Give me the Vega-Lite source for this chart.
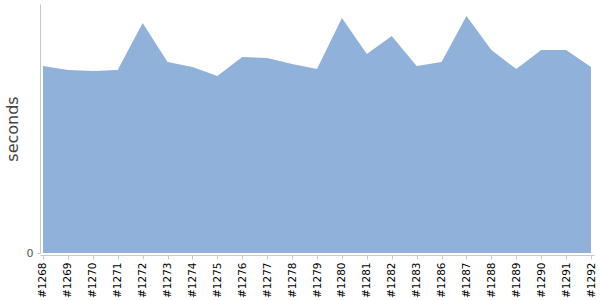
{
  "$schema": "https://vega.github.io/schema/vega-lite/v6.json",
  "width": 554,
  "height": 249,
  "autosize": "none",
  "padding": {"left": 40, "top": 4, "right": 6, "bottom": 47},
  "background": "white",
  "config": {"view": {"stroke": null}, "font": "DejaVu Sans"},
  "data": {"values": [
    {"build": "#1268", "seconds": 187},
    {"build": "#1269", "seconds": 183},
    {"build": "#1270", "seconds": 182},
    {"build": "#1271", "seconds": 183},
    {"build": "#1272", "seconds": 230},
    {"build": "#1273", "seconds": 191},
    {"build": "#1274", "seconds": 186},
    {"build": "#1275", "seconds": 177},
    {"build": "#1276", "seconds": 196},
    {"build": "#1277", "seconds": 195},
    {"build": "#1278", "seconds": 189},
    {"build": "#1279", "seconds": 184},
    {"build": "#1280", "seconds": 235},
    {"build": "#1281", "seconds": 199},
    {"build": "#1282", "seconds": 217},
    {"build": "#1283", "seconds": 187},
    {"build": "#1286", "seconds": 191},
    {"build": "#1287", "seconds": 237},
    {"build": "#1288", "seconds": 203},
    {"build": "#1289", "seconds": 184},
    {"build": "#1290", "seconds": 203},
    {"build": "#1291", "seconds": 203},
    {"build": "#1292", "seconds": 186}
  ]},
  "mark": {"type": "area", "color": "#8fb1da", "opacity": 1, "interpolate": "linear"},
  "encoding": {
    "x": {
      "field": "build", "type": "ordinal", "sort": null,
      "scale": {"type": "point", "padding": 0.12},
      "axis": {
        "title": null, "labelAngle": -90, "labelAlign": "right", "labelBaseline": "middle",
        "labelFontSize": 10.5, "labelColor": "#000", "labelPadding": 3, "offset": 2,
        "domainColor": "#c8c8c8", "tickColor": "#c8c8c8", "tickSize": 4, "grid": false
      }
    },
    "y": {
      "field": "seconds", "type": "quantitative",
      "scale": {"domain": [0, 249], "nice": false},
      "axis": {
        "title": "seconds", "values": [0], "grid": false,
        "labelFontSize": 11, "labelColor": "#555", "labelPadding": 4,
        "domainColor": "#c8c8c8", "tickColor": "#c8c8c8", "tickSize": 3,
        "titleFontSize": 16, "titleFontWeight": "normal", "titleColor": "#444",
        "titleAngle": -90, "titleX": -23, "titleY": 124.5, "titleAlign": "center", "titleBaseline": "alphabetic"
      }
    }
  }
}
